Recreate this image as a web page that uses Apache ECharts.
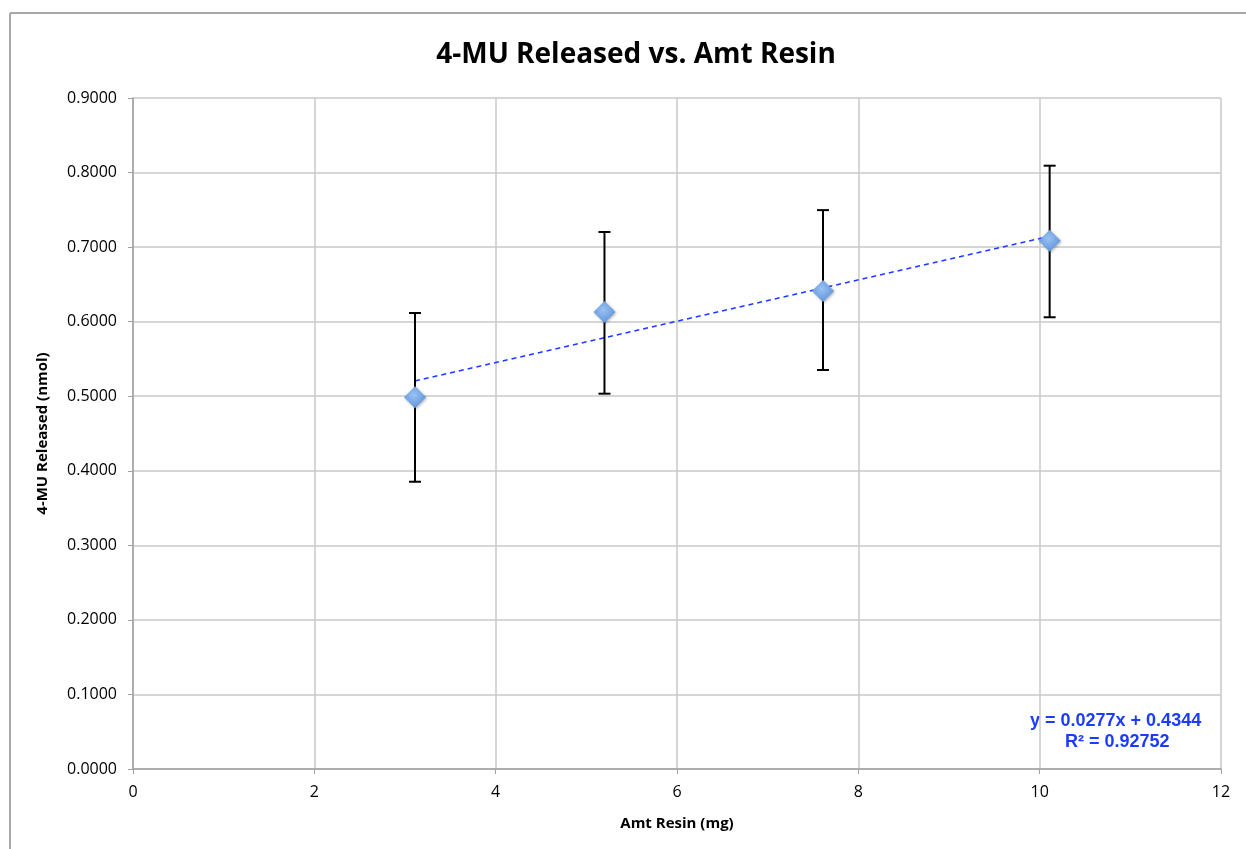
<!DOCTYPE html>
<html>
<head>
<meta charset="utf-8">
<script src="https://cdn.jsdelivr.net/npm/echarts@6/dist/echarts.min.js"></script>
<style>
html,body{margin:0;padding:0;background:#fff;}
#chart{width:1246px;height:849px;}
</style>
</head>
<body>
<div id="chart"></div>
<script>
// Data
const amtResin = [3.11, 5.20, 7.61, 10.11];
const released = [0.4986, 0.6130, 0.6411, 0.7086];
const errLow   = [0.3853, 0.5034, 0.5352, 0.6059];
const errHigh  = [0.6116, 0.7203, 0.7496, 0.8092];
const trendX   = [3.11, 10.11];
const trendY   = [0.5205, 0.7145];
const equationText = ['y = 0.0277x + 0.4344', 'R² = 0.92752'];

const chart = echarts.init(document.getElementById('chart'));

const points = amtResin.map((x, i) => [x, released[i]]);
const errData = amtResin.map((x, i) => [x, errLow[i], errHigh[i]]);
const trendData = trendX.map((x, i) => [x, trendY[i]]);

chart.setOption({
  backgroundColor: '#fff',
  animation: false,
  title: {
    text: '4-MU Released vs. Amt Resin',
    left: 631, top: 36, textAlign: 'center',
    textStyle: { fontFamily: 'Open Sans', fontWeight: 'bold', fontSize: 28, color: '#000' }
  },
  graphic: [
    { type: 'line', shape: { x1: 10, y1: 13, x2: 1246, y2: 13 }, style: { stroke: '#a8a8a8', lineWidth: 2 } },
    { type: 'line', shape: { x1: 10, y1: 13, x2: 10, y2: 849 }, style: { stroke: '#a8a8a8', lineWidth: 2 } },
    { type: 'text', left: 1030, top: 712, style: { text: equationText[0], font: 'bold 18px "Liberation Sans", Arial', fill: '#1a3cff' } },
    { type: 'text', left: 1065, top: 733, style: { text: equationText[1], font: 'bold 18px "Liberation Sans", Arial', fill: '#1a3cff' } }
  ],
  grid: { left: 133, right: 25, top: 98, bottom: 80, containLabel: false },
  xAxis: {
    type: 'value', min: 0, max: 12, interval: 2,
    name: 'Amt Resin (mg)', nameLocation: 'middle', nameGap: 47,
    nameTextStyle: { fontFamily: 'Open Sans', fontWeight: 'bold', fontSize: 15, color: '#000' },
    axisLine: { show: true, lineStyle: { color: '#a0a0a0', width: 1.5 } },
    axisTick: { show: true, length: 5, lineStyle: { color: '#a0a0a0' } },
    axisLabel: { fontFamily: 'Open Sans', fontSize: 16, color: '#000', margin: 15 },
    splitLine: { show: true, lineStyle: { color: '#c8c8c8', width: 1.5 } }
  },
  yAxis: {
    type: 'value', min: 0, max: 0.9, interval: 0.1,
    name: '4-MU Released (nmol)', nameLocation: 'middle', nameGap: 83,
    nameTextStyle: { fontFamily: 'Open Sans', fontWeight: 'bold', fontSize: 15, color: '#000' },
    axisLine: { show: true, lineStyle: { color: '#a0a0a0', width: 1.5 } },
    axisTick: { show: true, length: 5, lineStyle: { color: '#a0a0a0' } },
    axisLabel: { fontFamily: 'Open Sans', fontSize: 16, color: '#000', margin: 16, formatter: v => v.toFixed(4) },
    splitLine: { show: true, lineStyle: { color: '#c8c8c8', width: 1.5 } }
  },
  series: [
    {
      type: 'line', data: trendData, symbol: 'none', z: 3,
      lineStyle: { color: '#1a3cff', width: 1.5, type: [5, 4] }
    },
    {
      type: 'custom', z: 4,
      data: errData,
      renderItem: function (params, api) {
        const x = api.value(0);
        const lo = api.coord([x, api.value(1)]);
        const hi = api.coord([x, api.value(2)]);
        const w = 6;
        const st = { stroke: '#000', lineWidth: 2 };
        return {
          type: 'group',
          children: [
            { type: 'line', shape: { x1: lo[0], y1: lo[1], x2: hi[0], y2: hi[1] }, style: st },
            { type: 'line', shape: { x1: hi[0] - w, y1: hi[1], x2: hi[0] + w, y2: hi[1] }, style: st },
            { type: 'line', shape: { x1: lo[0] - w, y1: lo[1], x2: lo[0] + w, y2: lo[1] }, style: st }
          ]
        };
      }
    },
    {
      type: 'scatter', data: points, symbol: 'diamond', symbolSize: [22, 22], z: 5,
      itemStyle: {
        opacity: 1,
        color: new echarts.graphic.RadialGradient(0.45, 0.4, 0.75, [
          { offset: 0, color: '#9ac2f2' },
          { offset: 1, color: '#4f88d6' }
        ]),
        shadowColor: 'rgba(0,0,0,0.3)', shadowBlur: 3, shadowOffsetX: 1, shadowOffsetY: 1
      }
    }
  ]
});
</script>
</body>
</html>
